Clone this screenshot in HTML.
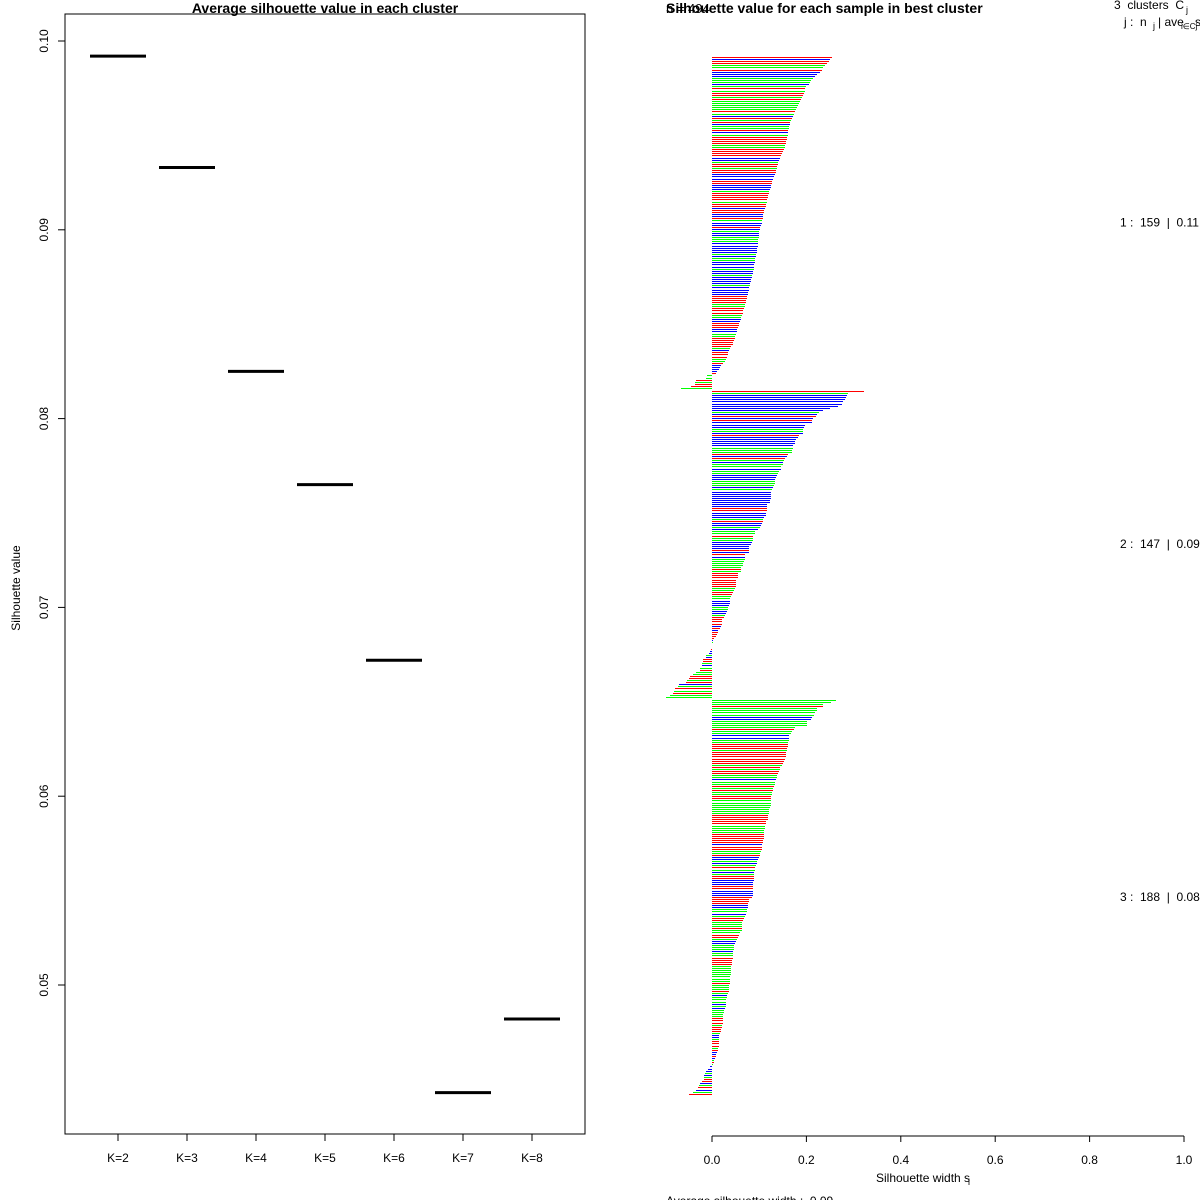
<!DOCTYPE html>
<html><head><meta charset="utf-8"><style>
html,body{margin:0;padding:0;background:#fff;}
svg{display:block;font-family:"Liberation Sans",Arial,sans-serif;}
text{white-space:pre;}
</style></head><body>
<svg id="chart" width="1200" height="1200" viewBox="0 0 1200 1200">
<rect x="0" y="0" width="1200" height="1200" fill="#fff"/>
<g id="left"></g>
<g id="right"></g>
</svg>
<script>
// ---- Left panel data ----
const kCategories = ["K=2","K=3","K=4","K=5","K=6","K=7","K=8"];
const kValues = [0.0992,0.0933,0.0825,0.0765,0.0672,0.0443,0.0482];
const yTicks = [0.05,0.06,0.07,0.08,0.09,0.10];
const yTickLabels = ["0.05","0.06","0.07","0.08","0.09","0.10"];

// ---- Right panel data ----
const clusterSizes = [159,147,188];
const clusterLabels = ["1 :  159  |  0.11","2 :  147  |  0.09","3 :  188  |  0.08"];
const c1Values = [.254,.25,.248,.244,.24,.235,.232,.228,.222,.218,.215,.21,.208,.205,.2,.198,.196,.195,.193,.19,.188,
.186,.184,.182,.18,.178,.176,.174,.172,.17,.168,.166,.165,.164,.163,.162,.161,.16,.159,.158,.157,.156,.155,
.154,.152,.15,.148,.146,.144,.142,.14,.139,.138,.137,.136,.135,.134,.132,.13,.128,.127,.126,.124,.122,
.121,.12,.119,.118,.117,.116,.115,.114,.113,.111,.11,.109,.108,.107,.106,.105,.104,.102,.101,
.1,.1,.099,.099,.098,.098,.097,.097,.096,.096,.095,.094,.093,.092,.092,.091,.09,.089,.088,
.087,.086,.085,.084,.083,.082,.081,.08,.079,.078,.077,.076,.075,.074,.073,.071,.07,.069,.067,.066,.065,.063,.062,
.061,.06,.058,.057,.055,.053,.052,.05,.049,.048,.046,.045,.044,.041,.038,.035,.034,.033,.031,.03,.028,.024,.02,
.017,.014,.011,.009,-.011,-.012,-.034,-.035,-.036,-.045,-.066];
const c2Values = [.322,.288,.286,.283,.282,.277,.275,.267,.25,.235,.227,.222,.22,.213,.212,.211,.197,.195,.193,.193,.192,
.184,.182,.178,.176,.175,.172,.171,.17,.169,.16,.159,.155,.153,.15,.15,.147,.146,.141,.139,.137,.135,.134,.134,.134,
.131,.129,.128,.125,.125,.125,.125,.123,.123,.116,.116,.116,.116,.114,.114,.111,.109,.107,.106,.103,.101,.097,.091,.091,
.087,.087,.086,.084,.082,.079,.078,.078,.078,.07,.07,.07,.068,.066,.066,.062,.062,.062,.055,.055,.055,.051,.051,.051,.051,
.049,.047,.044,.043,.04,.038,.038,.038,.036,.034,.033,.031,.03,.028,.025,.022,.021,.021,.019,.017,.013,.013,.01,.008,
.004,.003,.002,0,0,-.002,-.004,-.006,-.012,-.013,-.019,-.02,-.021,-.022,-.025,-.025,-.034,-.04,-.047,-.048,-.053,-.055,
-.069,-.071,-.079,-.08,-.083,-.089,-.097];
const c3Values = [.263,.252,.235,.235,.223,.223,.219,.216,.212,.21,.201,.201,.201,.176,.174,.17,.167,.163,.163,.163,.161,.161,.161,
.159,.159,.157,.157,.157,.155,.153,.15,.148,.144,.144,.142,.14,.138,.138,.136,.134,.134,.131,.129,.129,.127,.127,.125,.125,.125,.125,.125,
.123,.121,.121,.121,.119,.119,.119,.115,.115,.113,.113,.110,.110,.110,.110,.110,.108,.108,.106,.106,.106,.104,.102,.102,.100,
.098,.096,.096,.093,.091,.091,.089,.089,.089,.089,.089,.087,.087,.087,.087,.087,.087,.087,.085,.079,.079,.076,.076,.076,.074,
.074,.072,.070,.068,.066,.064,.064,.064,.064,.064,.059,.057,.055,.053,.051,.049,.047,.047,.047,.045,.045,.045,.045,.042,.042,.042,
.040,.040,.040,.040,.040,.038,.038,.038,.038,.036,.036,.036,.036,.034,.032,.032,.030,.030,.030,.030,.028,.025,.025,.023,.023,.023,
.023,.023,.021,.021,.019,.019,.017,.015,.015,.015,.015,.015,.015,.013,.013,.011,.008,.008,.006,.004,.004,.003,
-.004,-.008,-.012,-.014,-.018,-.018,-.018,-.021,-.025,-.027,-.029,-.034,-.040,-.049];
const c1Colors = "rbrrggrbbbgggbgrgrrgrgggggrgbrgrbggrbgrrrrggrrrrbbgrrgrrbbbrrbbbgrrrrgrrbrrbbrgbbrbgbbgggbbbbbgbggbbbgbbgbbbbgbbbbrrrrggrrrggbbrrrbbggrrrrrgbrrrggrbbbbrggrgrrgrrbrbbgbr";
const c2Colors = "rgbbbbbbbbgbrbrbbbggbrbbbbbgggrbrgbggbggbbbgggbgbbbbbbbbrrbbbgrbbgbggrggbbbbrbrbgggggrgrrrrrrrggrrggbbbggbbgrrrrbrbrrrrbgggrbbgbrrgbgrggrrgrbgrgrggbggg";
const c3Colors = "gggrggggbbggggrggbbggrrrgrrrrrrgrgrrggbggrgrggrrgggggggrrrrrggggrrrrrbrrggrbbgbgrgbgrrbbbrrbbbrrrrbbggbgrrgggrggrrgbbgggbggrrrrggggggggrgggrgbgggbgbggggrrrgrrrgbbgrrrgrbbrbgrgbbbgbgrrbgrbgrbb";
const xTicks = [0,0.2,0.4,0.6,0.8,1.0];
const xTickLabels = ["0.0","0.2","0.4","0.6","0.8","1.0"];

const NS="http://www.w3.org/2000/svg";
function mk(tag, attrs, parent, text){
  const e=document.createElementNS(NS,tag);
  for(const k in attrs) e.setAttribute(k, attrs[k]);
  if(text!==undefined) e.textContent=text;
  parent.appendChild(e); return e;
}
const ly = v => 985 - (v-0.05)*18880;
const lx = i => 118 + 69*i;
const rx = v => 712 + v*472;
const ry = (g, gaps) => 57 + (g + gaps*0.43)*2.095;

const L=document.getElementById('left');
let e;
e=mk('rect',{x:65,y:14,width:520,height:1120,fill:'none',stroke:'#000','stroke-width':1},L);


e=mk('text',{x:325,y:13,'text-anchor':'middle','font-size':14,'font-weight':'bold'},L,'Average silhouette value in each cluster');


e=mk('text',{x:0,y:0,'text-anchor':'middle','font-size':12,transform:'translate(20,588) rotate(-90)'},L,'Silhouette value');


yTicks.forEach((t,i)=>{
  const y=ly(t);
  e=mk('line',{x1:58,x2:65,y1:y,y2:y,stroke:'#000'},L);
  
  
  e=mk('text',{x:0,y:0,'text-anchor':'middle','font-size':12,transform:`translate(48,${y}) rotate(-90)`},L,yTickLabels[i]);
  
  
});
kCategories.forEach((c,i)=>{
  const x=lx(i);
  e=mk('line',{x1:x,x2:x,y1:1134,y2:1141,stroke:'#000'},L);
  
  
  e=mk('text',{x:x,y:1162,'text-anchor':'middle','font-size':12},L,c);
  
  
  const y=ly(kValues[i]);
  e=mk('line',{x1:x-28,x2:x+28,y1:y,y2:y,stroke:'#000','stroke-width':3},L);
  
  
});

const R=document.getElementById('right');
e=mk('text',{x:666,y:13,'font-size':13},R,'n = 494');


e=mk('text',{x:666,y:13,'font-size':14,'font-weight':'bold'},R,'Silhouette value for each sample in best cluster');


e=mk('text',{x:1114,y:9,'font-size':12},R,'3  clusters  C');


mk('text',{x:1186,y:13,'font-size':9},R,'j');
e=mk('text',{x:1124,y:26,'font-size':12},R,'j :  n');


mk('text',{x:1153,y:29,'font-size':9},R,'j');
mk('text',{x:1158,y:26,'font-size':12},R,'| ave');
mk('text',{x:1181,y:29,'font-size':8},R,'i∈Cj');
mk('text',{x:1195,y:26,'font-size':12},R,'s');

const values=[c1Values,c2Values,c3Values], colors=[c1Colors,c2Colors,c3Colors];
const cmap={r:'#ff0000',g:'#00ff00',b:'#0000ff'};
let g=0;
values.forEach((arr,ci)=>{
  const y0=ry(g,ci);
  arr.forEach((v,j)=>{
    const y=Math.round(ry(g+j,ci));
    const a=Math.round(rx(Math.min(0,v))), b=Math.round(rx(Math.max(0,v)));
    if(b>a){
      e=mk('rect',{x:a,y:y,width:b-a,height:1,fill:cmap[colors[ci][j]]||'#0000ff','shape-rendering':'crispEdges'},R);
      
      
    }
  });
  const yc=(y0+ry(g+arr.length-1,ci))/2;
  e=mk('text',{x:1120,y:yc+4,'font-size':12},R,clusterLabels[ci]);
  
  
  g+=arr.length;
});

e=mk('line',{x1:rx(0),x2:rx(1),y1:1136,y2:1136,stroke:'#000'},R);


xTicks.forEach((t,i)=>{
  const x=rx(t);
  e=mk('line',{x1:x,x2:x,y1:1136,y2:1142,stroke:'#000'},R);
  
  
  e=mk('text',{x:x,y:1164,'text-anchor':'middle','font-size':12},R,xTickLabels[i]);
  
  
});
e=mk('text',{x:876,y:1182,'font-size':12},R,'Silhouette width s');


mk('text',{x:968,y:1185,'font-size':9},R,'i');
e=mk('text',{x:666,y:1205,'font-size':12},R,'Average silhouette width :  0.09');


</script>
</body></html>
